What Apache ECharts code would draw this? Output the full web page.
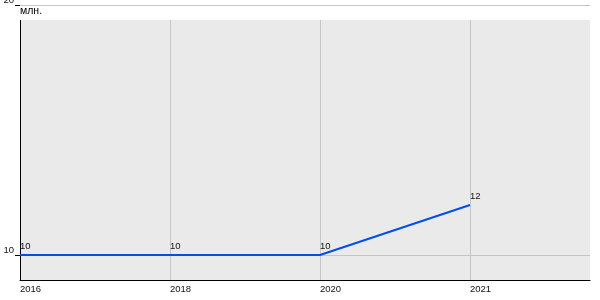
<!DOCTYPE html>
<html>
<head>
<meta charset="utf-8">
<script src="https://cdn.jsdelivr.net/npm/echarts@6/dist/echarts.min.js"></script>
<style>html,body{margin:0;padding:0;background:#fff}#c{width:600px;height:300px}</style>
</head>
<body>
<div id="c"></div>
<script>
var categories = ['2016', '2018', '2020', '2021'];
var values = [10, 10, 10, 12];
var yTickLabels = [10, 20];
var unitLabel = 'млн.';

var chart = echarts.init(document.getElementById('c'), null, {renderer: 'canvas'});
var data = values.map(function (v, i) { return [i, v]; });
var yMin = 9, yMax = 20, bgTop = 19.4, xMax = 3.8;
var gridColor = '#c6c6c6';
var font = 'Liberation Sans, Arial, sans-serif';
var fs = 9.5;

var vLines = [];
for (var i = 1; i < categories.length; i++) {
  vLines.push([{coord: [i, yMin]}, {coord: [i, bgTop]}]);
}
var hLines = [
  [{coord: [0, 10]}, {coord: [xMax, 10]}],
  [{coord: [0, 20]}, {coord: [xMax, 20]}]
];

chart.setOption({
  animation: false,
  title: {
    text: unitLabel, left: 15, top: 1,
    textStyle: {fontSize: 10.5, fontWeight: 'normal', color: '#000', fontFamily: font}
  },
  grid: {left: 20, right: 10, top: 5, bottom: 20, containLabel: false, outerBoundsMode: 'none'},
  xAxis: {
    type: 'value', min: 0, max: xMax, interval: 1,
    axisLine: {show: true, lineStyle: {color: '#000', width: 1}},
    axisTick: {show: false},
    splitLine: {show: false},
    axisLabel: {
      color: '#111', fontSize: fs, fontFamily: font, align: 'left', margin: 4,
      showMaxLabel: false,
      formatter: function (v) { return (Number.isInteger(v) && categories[v] !== undefined) ? categories[v] : ''; }
    }
  },
  yAxis: {
    type: 'value', min: yMin, max: yMax,
    axisLine: {show: false},
    axisTick: {show: true, customValues: yTickLabels, length: 5, lineStyle: {color: '#000'}},
    splitLine: {show: false},
    axisLabel: {
      customValues: yTickLabels, color: '#111', fontSize: fs, fontFamily: font,
      verticalAlign: 'bottom', margin: 6
    }
  },
  series: [
    {
      type: 'line', data: [], z: 1, silent: true,
      markArea: {
        silent: true, z: 1,
        itemStyle: {color: '#eaeaea'},
        data: [[{coord: [0, yMin]}, {coord: [xMax, bgTop]}]]
      }
    },
    {
      type: 'line', data: [], z: 2, silent: true,
      markLine: {
        silent: true, z: 2, symbol: ['none', 'none'], label: {show: false},
        lineStyle: {color: gridColor, width: 1, type: 'solid'},
        data: vLines.concat(hLines)
      }
    },
    {
      type: 'line', data: [], z: 3, silent: true,
      markLine: {
        silent: true, z: 3, symbol: ['none', 'none'], label: {show: false},
        lineStyle: {color: '#000', width: 1, type: 'solid'},
        data: [[{coord: [0, yMin]}, {coord: [0, bgTop]}]]
      }
    },
    {
      type: 'line', data: data, z: 10,
      showSymbol: true, symbol: 'circle', symbolSize: 0,
      lineStyle: {color: '#0050e0', width: 2},
      itemStyle: {color: '#0050e0'},
      label: {
        show: true, position: [0, -4], align: 'left', verticalAlign: 'bottom',
        color: '#111', fontSize: fs, fontFamily: font,
        formatter: function (p) { return p.value[1]; }
      }
    }
  ]
});
</script>
</body>
</html>
